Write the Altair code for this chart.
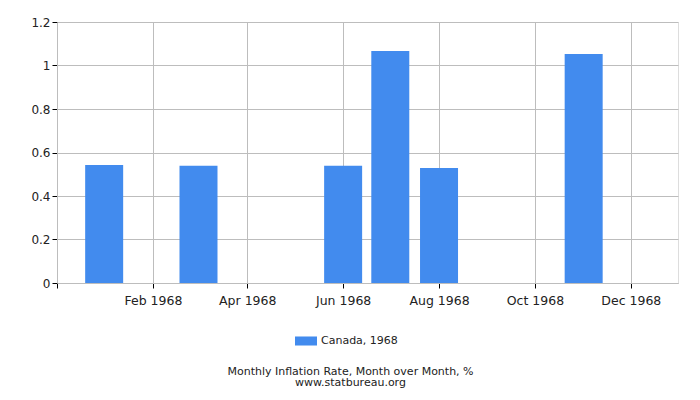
import altair as alt
import pandas as pd

months = ["1968-01-01", "1968-02-01", "1968-03-01", "1968-04-01", "1968-05-01", "1968-06-01",
          "1968-07-01", "1968-08-01", "1968-09-01", "1968-10-01", "1968-11-01", "1968-12-01"]
values = [0.543, 0.0, 0.539, 0.0, 0.0, 0.539, 1.067, 0.529, 0.0, 0.0, 1.053, 0.0]
series = "Canada, 1968"
tick_months = [2, 4, 6, 8, 10, 12]
y_ticks = [0, 0.2, 0.4, 0.6, 0.8, 1.0, 1.2]

df = pd.DataFrame({"date": months, "value": values, "series": [series] * len(months)})

FONT = "DejaVu Sans"
BLUE = "#428BEE"
GRID = "#BDBDBD"

x_values = [alt.DateTime(year=1967, month=12, date=2, utc=True)] + [
    alt.DateTime(year=1968, month=m, date=1, utc=True) for m in tick_months]

chart = alt.Chart(df).mark_bar(size=38).encode(
    x=alt.X("date:T",
            scale=alt.Scale(type="utc", padding=0,
                            domain=[alt.DateTime(year=1967, month=12, date=2, utc=True),
                                    alt.DateTime(year=1968, month=12, date=31, utc=True)]),
            axis=alt.Axis(values=x_values,
                          labelExpr="utcyear(datum.value) < 1968 ? '' : utcFormat(datum.value, '%b %Y')",
                          title=None, grid=True, gridColor=GRID, domainColor=GRID,
                          tickColor="#000", tickSize=5, labelFontSize=12.5, labelColor="#222",
                          labelFont=FONT, labelPadding=6, labelFlush=False, labelOverlap=False)),
    y=alt.Y("value:Q",
            scale=alt.Scale(domain=[0, 1.2], nice=False, zero=True),
            axis=alt.Axis(values=y_ticks, format="~g", title=None, grid=True,
                          gridColor=GRID, domainColor=GRID, tickColor="#000", tickSize=5,
                          labelFontSize=12, labelColor="#222", labelFont=FONT, labelPadding=2)),
    color=alt.Color("series:N",
                    scale=alt.Scale(range=[BLUE]),
                    legend=alt.Legend(title=None, orient="none", legendX=238, legendY=308,
                                      symbolType="M-1,-0.41L1,-0.41L1,0.41L-1,0.41Z",
                                      symbolSize=484, symbolStrokeWidth=0, labelOffset=4,
                                      labelFontSize=11, labelFont=FONT, labelColor="#222")),
).properties(
    width=621,
    height=261,
    autosize=alt.AutoSizeParams(type="none"),
    padding={"left": 49, "top": 14, "right": 14, "bottom": 114},
    title=alt.Title("Monthly Inflation Rate, Month over Month, %",
                    subtitle="www.statbureau.org", orient="bottom", anchor="middle",
                    fontSize=11, subtitleFontSize=11, font=FONT, subtitleFont=FONT,
                    fontWeight="normal", color="#222", subtitleColor="#222",
                    subtitlePadding=0, offset=20, dx=-17),
).configure_view(stroke=GRID).configure(background="white")

chart.save("out.html", embed_options={"renderer": "svg", "actions": False})
